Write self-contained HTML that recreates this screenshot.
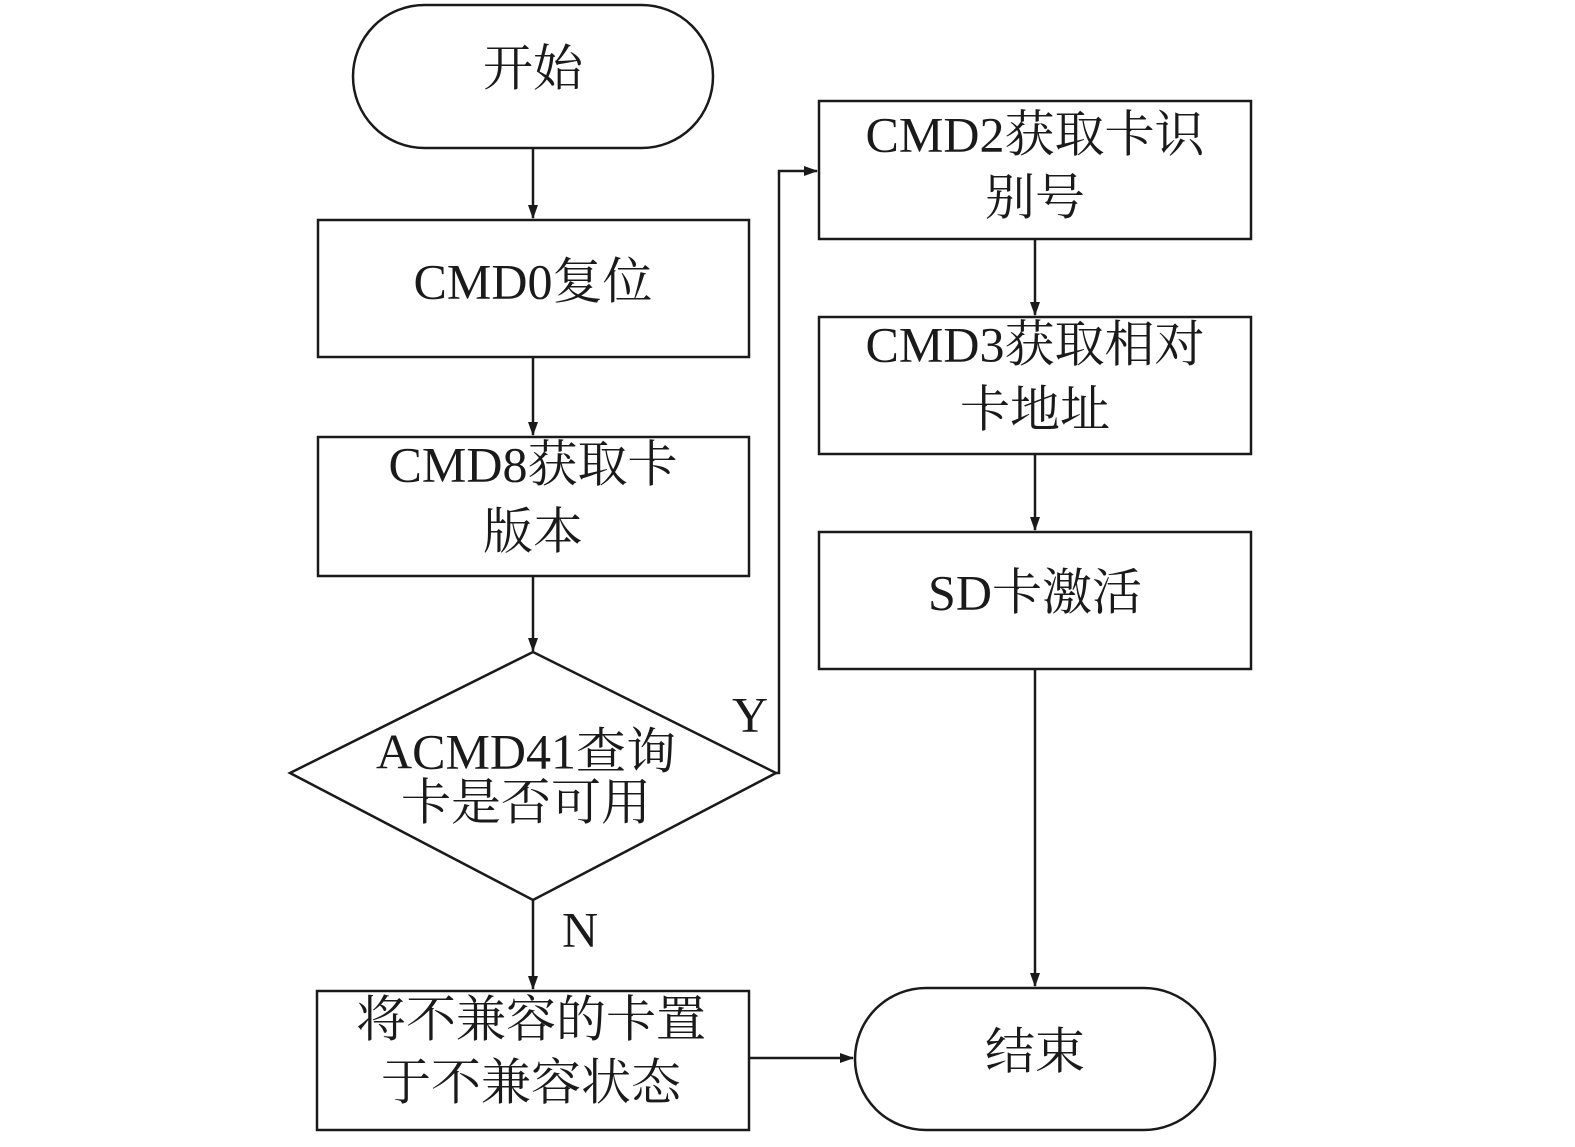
<!DOCTYPE html>
<html><head><meta charset="utf-8"><style>
html,body{margin:0;padding:0;background:#fff;}
svg{display:block;}
text{font-family:"Liberation Serif","Noto Serif CJK SC",serif;font-size:50px;fill:#1a1a1a;text-anchor:middle;dominant-baseline:middle;}
</style></head><body>
<svg width="1575" height="1147" viewBox="0 0 1575 1147" xmlns="http://www.w3.org/2000/svg">
<defs><marker id="a" markerWidth="14" markerHeight="10" refX="13" refY="5" orient="auto" markerUnits="userSpaceOnUse"><path d="M0,0 L14,5 L0,10 Z" fill="#1a1a1a"/></marker></defs>
<g fill="none" stroke="#1a1a1a" stroke-width="2.5">
<rect x="353" y="5" width="360" height="143" rx="71.5"/>
<rect x="318" y="220" width="431" height="137"/>
<rect x="318" y="437" width="431" height="139"/>
<polygon points="290,773 533,652 776,773 533,900"/>
<rect x="317" y="991" width="432" height="139"/>
<rect x="819" y="101" width="432" height="138"/>
<rect x="819" y="317" width="432" height="137"/>
<rect x="819" y="532" width="432" height="137"/>
<rect x="855" y="988" width="360" height="142" rx="71"/>
<line x1="533" y1="148" x2="533" y2="218" marker-end="url(#a)"/>
<line x1="533" y1="357" x2="533" y2="435" marker-end="url(#a)"/>
<line x1="533" y1="576" x2="533" y2="651" marker-end="url(#a)"/>
<line x1="533" y1="900" x2="533" y2="989" marker-end="url(#a)"/>
<line x1="749" y1="1058" x2="853" y2="1058" marker-end="url(#a)"/>
<polyline points="776,773 779,773 779,171 817,171" marker-end="url(#a)"/>
<line x1="1035" y1="239" x2="1035" y2="315" marker-end="url(#a)"/>
<line x1="1035" y1="454" x2="1035" y2="530" marker-end="url(#a)"/>
<line x1="1035" y1="669" x2="1035" y2="986" marker-end="url(#a)"/>
</g>
<text x="533" y="74">开始</text>
<text x="533" y="287">CMD0复位</text>
<text x="533" y="470">CMD8获取卡</text>
<text x="533" y="537">版本</text>
<text x="526" y="757">ACMD41查询</text>
<text x="526" y="808">卡是否可用</text>
<text x="750" y="720">Y</text>
<text x="580" y="935">N</text>
<text x="531" y="1025">将不兼容的卡置</text>
<text x="531" y="1088">于不兼容状态</text>
<text x="1035" y="140">CMD2获取卡识</text>
<text x="1035" y="203">别号</text>
<text x="1035" y="350">CMD3获取相对</text>
<text x="1035" y="415">卡地址</text>
<text x="1035" y="598">SD卡激活</text>
<text x="1035" y="1057">结束</text>
</svg>
</body></html>
